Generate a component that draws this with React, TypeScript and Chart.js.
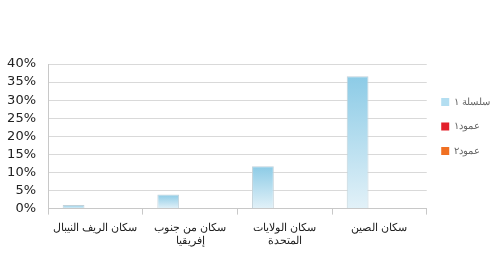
import React, { useEffect, useRef } from "react";
import { Chart, registerables } from "chart.js";

Chart.register(...registerables);

const categories: (string | string[])[] = [
  "سكان الريف النيبال",
  ["سكان من جنوب", "إفريقيا"],
  ["سكان الولايات", "المتحدة"],
  "سكان الصين",
];
const seriesNames = ["سلسلة ١", "عمود١", "عمود٢"];
const series1 = [0.01, 0.039, 0.117, 0.366];
const series2: (number | null)[] = [null, null, null, null];
const series3: (number | null)[] = [null, null, null, null];
const yTicks = [0, 0.05, 0.1, 0.15, 0.2, 0.25, 0.3, 0.35, 0.4];

export default function App() {
  const ref = useRef<HTMLCanvasElement>(null);
  useEffect(() => {
    if (!ref.current) return;
    const blueFill = (ctx: any) => {
      const chart = ctx.chart;
      const ys = chart.scales && chart.scales.y;
      if (!ys || !ctx.parsed || ys.top === undefined) return "#a9dbef";
      const top = ys.getPixelForValue(ctx.parsed.y);
      const bottom = ys.getPixelForValue(0);
      if (!isFinite(top) || !isFinite(bottom) || bottom - top < 0.5) return "#a9dbef";
      const g = chart.ctx.createLinearGradient(0, top, 0, bottom);
      g.addColorStop(0, "#8ccbe6");
      g.addColorStop(1, "#e2f1f8");
      return g;
    };
    const chart = new Chart(ref.current, {
      type: "bar",
      data: {
        labels: categories,
        datasets: [
          { label: seriesNames[0], data: series1, backgroundColor: blueFill, borderColor: "#c2d2da", borderWidth: 1 },
          { label: seriesNames[1], data: series2, backgroundColor: "#e3202b" },
          { label: seriesNames[2], data: series3, backgroundColor: "#f07022" },
        ],
      },
      options: {
        animation: false,
        responsive: false,
        layout: { padding: { top: 64, left: 0, right: 0, bottom: 0 } },
        datasets: { bar: { categoryPercentage: 0.69, barPercentage: 1.0 } },
        plugins: {
          tooltip: { enabled: false },
          legend: {
            position: "right",
            align: "start",
            title: {
              display: true,
              text: " ",
              font: { size: 10 },
              padding: { top: 6.5, bottom: 0 },
            },
            labels: {
              boxWidth: 8,
              boxHeight: 8,
              padding: 14.5,
              color: "#111",
              font: { family: "Liberation Sans, Arial", size: 10 },
              generateLabels: (c: any) =>
                c.data.datasets.map((d: any, i: number) => ({
                  text: d.label,
                  fillStyle: i === 0 ? "#b3def1" : d.backgroundColor,
                  strokeStyle: i === 0 ? "#b3def1" : d.backgroundColor,
                  lineWidth: 0,
                  datasetIndex: i,
                  hidden: false,
                })),
            },
          },
        },
        scales: {
          x: {
            afterFit: (axis: any) => {
              axis.paddingLeft = 0;
              axis.paddingRight = 0;
            },
            grid: { offset: true, drawOnChartArea: false, drawTicks: true, tickLength: 6, color: "#c8c8c8" },
            border: { color: "#c8c8c8" },
            ticks: {
              color: "#222",
              font: { family: "Liberation Sans, Arial", size: 11 },
              maxRotation: 0,
              autoSkip: false,
              padding: 7,
            },
          },
          y: {
            min: 0,
            max: 0.4,
            afterBuildTicks: (axis: any) => {
              axis.ticks = yTicks.map((v) => ({ value: v }));
            },
            afterFit: (axis: any) => {
              axis.width = 48;
            },
            grid: { color: "#d9d9d9", drawTicks: false },
            border: { color: "#c8c8c8" },
            ticks: {
              color: "#222",
              padding: 12,
              autoSkip: false,
              font: { family: "DejaVu Sans", size: 13 },
              callback: (v: any) => Math.round(Number(v) * 100) + "%",
            },
          },
        },
      },
    });
    return () => chart.destroy();
  }, []);
  return (
    <div style={{ position: "fixed", left: 0, top: 0, width: 500, height: 255, background: "#fff" }}>
      <canvas ref={ref} width={500} height={255} style={{ width: 500, height: 255, display: "block" }} />
    </div>
  );
}
